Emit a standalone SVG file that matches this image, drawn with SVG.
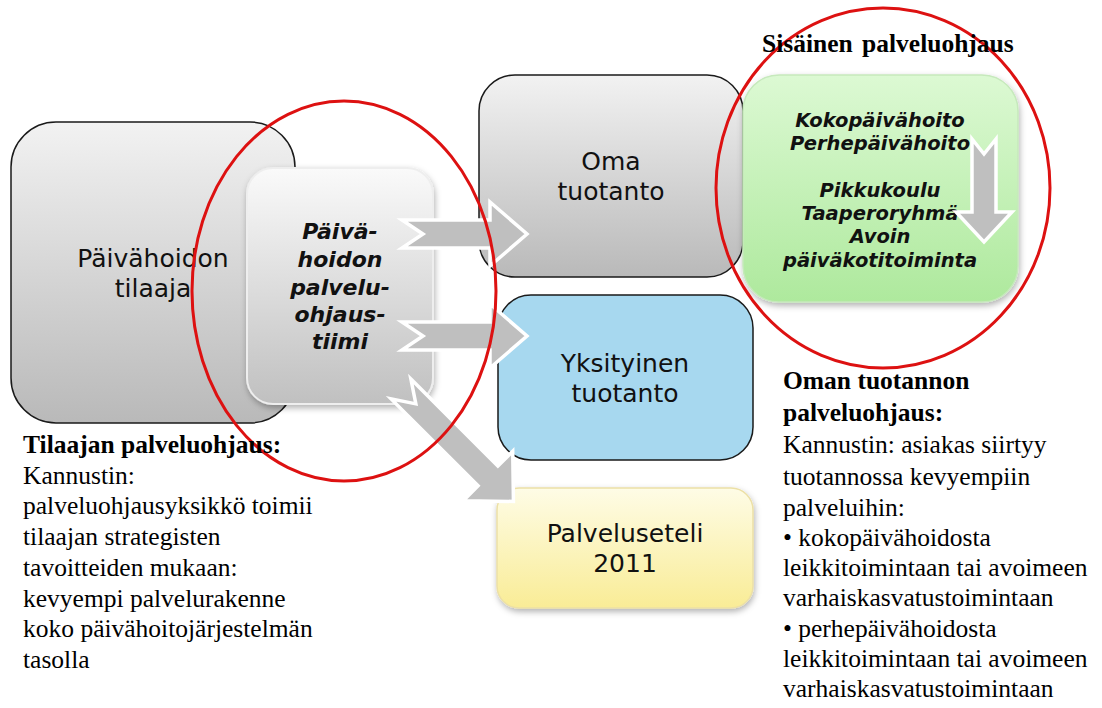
<svg xmlns="http://www.w3.org/2000/svg" width="1102" height="708" viewBox="0 0 1102 708">
<defs>
  <linearGradient id="gGray" x1="0" y1="0" x2="0" y2="1">
    <stop offset="0" stop-color="#f2f2f2"/>
    <stop offset="1" stop-color="#b9b9b9"/>
  </linearGradient>
  <linearGradient id="gLight" x1="0" y1="0" x2="0" y2="1">
    <stop offset="0" stop-color="#fafafa"/>
    <stop offset="1" stop-color="#c0c0c0"/>
  </linearGradient>
  <linearGradient id="gGreen" x1="0" y1="0" x2="0" y2="1">
    <stop offset="0" stop-color="#dcf9d3"/>
    <stop offset="1" stop-color="#aee99d"/>
  </linearGradient>
  <linearGradient id="gYellow" x1="0" y1="0" x2="0" y2="1">
    <stop offset="0" stop-color="#fefce6"/>
    <stop offset="1" stop-color="#f9ec96"/>
  </linearGradient>
  <filter id="shadow" x="-10%" y="-10%" width="130%" height="130%">
    <feDropShadow dx="1" dy="3" stdDeviation="3" flood-color="#000" flood-opacity="0.3"/>
  </filter>
  <style>
    .box { stroke: #1a1a1a; stroke-width: 1.5; }
    .lbl { font-family: "DejaVu Sans", Verdana, sans-serif; font-size: 25px; fill: #111; text-anchor: middle; }
    .bi { font-family: "DejaVu Sans", Verdana, sans-serif; font-weight: bold; font-style: italic; fill: #111; text-anchor: middle; }
    .ser { font-family: "Liberation Serif", "Times New Roman", serif; font-size: 25.5px; font-weight: normal; fill: #000; }
    .serb { font-family: "Liberation Serif", "Times New Roman", serif; font-size: 25.5px; font-weight: bold; fill: #000; }
    .arrow { fill: #bfbfbf; stroke: #ffffff; stroke-width: 3.5; stroke-linejoin: miter; }
    .ring { fill: none; stroke: #dd1111; stroke-width: 3; }
  </style>
</defs>
<rect width="1102" height="708" fill="#ffffff"/>

<g id="node-tilaaja">
  <rect class="box" x="11" y="122" width="284" height="301" rx="45" fill="url(#gGray)"/>
  <text class="lbl" x="153" y="267">Päivähoidon</text>
  <text class="lbl" x="153" y="297">tilaaja</text>
</g>

<g id="node-tiimi">
  <rect x="247" y="168" width="186" height="236" rx="26" fill="url(#gLight)" stroke="#eeeeee" stroke-width="2" filter="url(#shadow)"/>
  <g class="bi" font-size="22">
    <text x="340" y="239">Päivä-</text>
    <text x="340" y="267">hoidon</text>
    <text x="340" y="295">palvelu-</text>
    <text x="340" y="322">ohjaus-</text>
    <text x="340" y="349">tiimi</text>
  </g>
</g>

<g id="node-oma">
  <rect class="box" x="479" y="75" width="264" height="202" rx="36" fill="url(#gGray)"/>
  <text class="lbl" x="611" y="170">Oma</text>
  <text class="lbl" x="611" y="200">tuotanto</text>
</g>

<g id="node-yksityinen">
  <rect class="box" x="498" y="295" width="255" height="165" rx="33" fill="#a7d8ef"/>
  <text class="lbl" x="625" y="372">Yksityinen</text>
  <text class="lbl" x="625" y="402">tuotanto</text>
</g>

<g id="node-palveluseteli">
  <rect x="497" y="488" width="256" height="120" rx="22" fill="url(#gYellow)" stroke="#ece0a6" stroke-width="1.5" filter="url(#shadow)"/>
  <text class="lbl" x="625" y="542">Palveluseteli</text>
  <text class="lbl" x="625" y="572">2011</text>
</g>

<g id="node-sisainen">
  <rect x="743" y="75" width="275" height="227" rx="36" fill="url(#gGreen)" stroke="#c6e9bc" stroke-width="1.5" filter="url(#shadow)"/>
  <g class="bi" font-size="19.5">
    <text x="880" y="127">Kokopäivähoito</text>
    <text x="880" y="150">Perhepäivähoito</text>
    <text x="880" y="197">Pikkukoulu</text>
    <text x="880" y="220">Taaperoryhmä</text>
    <text x="880" y="243">Avoin</text>
    <text x="880" y="267">päiväkotitoiminta</text>
  </g>
  <path class="arrow" transform="translate(984,139) rotate(90)" d="M0,-12 L73,-12 L73,-28 L103,0 L73,28 L73,12 L0,12 L15,0 Z"/>
</g>

<g id="connectors">
  <path class="arrow" transform="translate(402,234)" d="M0,-14 L88,-14 L88,-32 L125,0 L88,32 L88,14 L0,14 L21,0 Z"/>
  <path class="arrow" transform="translate(402,336)" d="M0,-14 L88,-14 L88,-32 L125,0 L88,32 L88,14 L0,14 L21,0 Z"/>
  <path class="arrow" transform="translate(401,389) rotate(45)" d="M0,-14 L123,-14 L123,-35 L159,0 L123,35 L123,14 L0,14 L21,0 Z"/>
</g>

<g id="highlights">
  <ellipse class="ring" cx="344" cy="291" rx="152" ry="190"/>
  <ellipse class="ring" cx="883" cy="188" rx="167" ry="180"/>
</g>

<g id="notes">
  <text class="serb" x="762" y="52" font-size="23" word-spacing="3">Sisäinen palveluohjaus</text>

  <text class="serb" x="23" y="453">Tilaajan palveluohjaus:</text>
  <text class="ser" x="23" y="484">Kannustin:</text>
  <text class="ser" x="23" y="514">palveluohjausyksikkö toimii</text>
  <text class="ser" x="23" y="545">tilaajan strategisten</text>
  <text class="ser" x="23" y="576">tavoitteiden mukaan:</text>
  <text class="ser" x="23" y="607">kevyempi palvelurakenne</text>
  <text class="ser" x="23" y="637">koko päivähoitojärjestelmän</text>
  <text class="ser" x="23" y="668">tasolla</text>

  <text class="serb" x="783" y="389">Oman tuotannon</text>
  <text class="serb" x="783" y="421">palveluohjaus:</text>
  <text class="ser" x="783" y="453">Kannustin: asiakas siirtyy</text>
  <text class="ser" x="783" y="485">tuotannossa kevyempiin</text>
  <text class="ser" x="783" y="516">palveluihin:</text>
  <text class="ser" x="783" y="546">• kokopäivähoidosta</text>
  <text class="ser" x="783" y="576">leikkitoimintaan tai avoimeen</text>
  <text class="ser" x="783" y="606">varhaiskasvatustoimintaan</text>
  <text class="ser" x="783" y="637">• perhepäivähoidosta</text>
  <text class="ser" x="783" y="667">leikkitoimintaan tai avoimeen</text>
  <text class="ser" x="783" y="697">varhaiskasvatustoimintaan</text>
</g>
</svg>
